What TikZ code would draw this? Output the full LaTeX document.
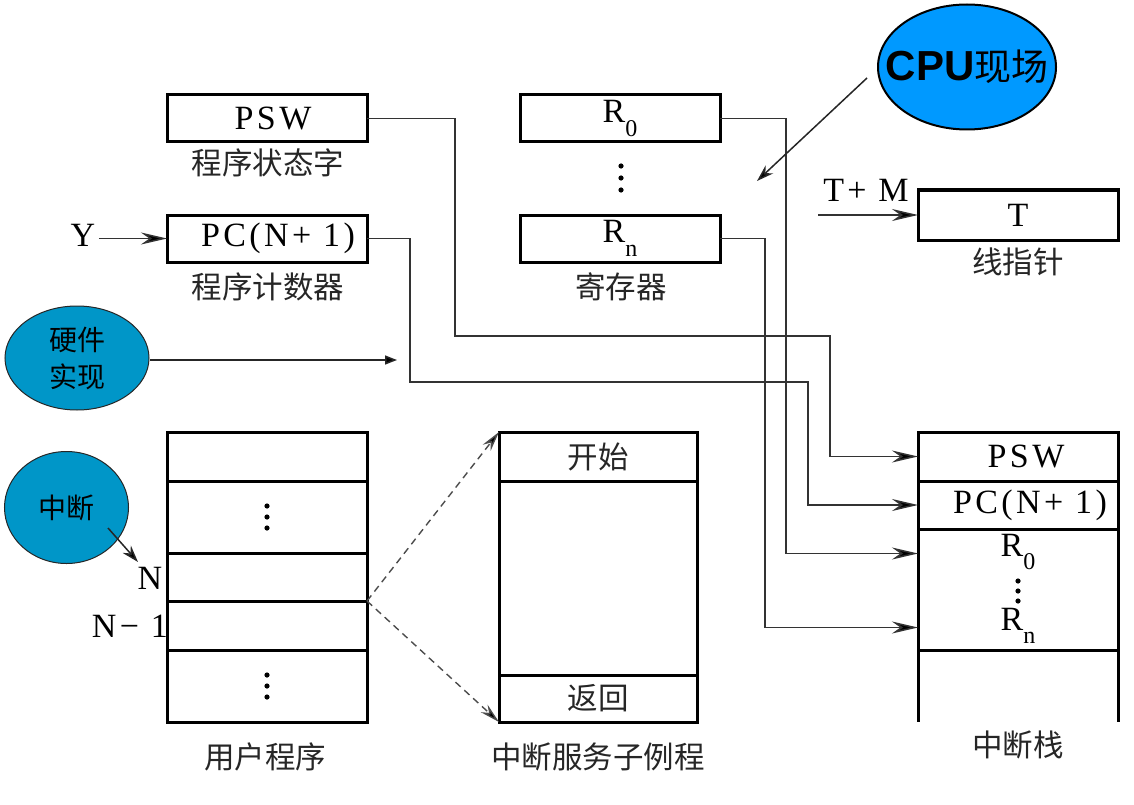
\documentclass[tikz,border=0pt]{standalone}
\usepackage{fontspec}
\setmainfont{Liberation Serif}
\newfontfamily\cjk{Noto Sans CJK SC}
\newfontfamily\lat[LetterSpace=10]{Liberation Serif}
\newfontfamily\cpuf{Liberation Sans}
\usetikzlibrary{arrows.meta,shapes.geometric}
\newcommand{\Rsub}[1]{R\raisebox{-0.4em}{\fontsize{24}{24}\selectfont #1}}
\definecolor{hwblue}{RGB}{0,150,200}
\definecolor{cpublue}{RGB}{0,153,255}
\begin{document}
\begin{tikzpicture}[x=1pt,y=-1pt,
  latf/.style={font=\lat\fontsize{34}{34}\selectfont},
  box/.style={draw, line width=3pt, minimum width=200pt, minimum height=47pt, inner sep=0pt, outer sep=0pt, latf},
  cell/.style={draw, line width=3pt, minimum width=200pt, inner sep=0pt, outer sep=0pt, latf},
  zhlbl/.style={font=\cjk\fontsize{30.5}{30.5}\selectfont, text=black!85},
  latl/.style={latf},
  conn/.style={line width=1.5pt, draw=black!80, -{Stealth[length=26pt,width=12pt,fill=black]}},
  smallarr/.style={line width=1.5pt, draw=black!85, -{Triangle[length=12pt,width=9pt,fill=black]}},
  midarr/.style={line width=1.5pt, draw=black!85, -{Stealth[length=17pt,width=11pt,fill=black]}},
  dasharr/.style={line width=1.4pt, draw=black!70, dash pattern=on 7pt off 5pt, -{Stealth[length=20pt,width=10pt,fill=black]}},
  blob/.style={ellipse, draw=black!85, line width=1pt, inner sep=0pt, align=center}
]
\useasboundingbox (0,0) rectangle (1134,805);

% registers
\node[box] (psw) at (267,118.5) {\hspace{12pt}PSW};
\node[zhlbl] (pswlab) at (268,163) {程序状态字};
\node[box] (pc) at (267,238.5) {\hspace{22pt}PC(N+ 1)};
\node[zhlbl] (pclab) at (268,287) {程序计数器};
\node[box] (r0) at (620,118.5) {\Rsub0};
\node[box] (rn) at (620,238.5) {\Rsub n};
\node[zhlbl] (reglab) at (621,287) {寄存器};
\foreach \yy in {166,178,190} \fill (621,\yy) circle (2.6pt);
\node[box, minimum height=50pt] (t) at (1018,215) {T};
\node[zhlbl] (tlab) at (1018,262) {线指针};
\node[latl] (tm) at (866,190) {T+ M};
\node[latl] (y) at (83,235) {Y};

% interrupt stack
\node[cell, minimum height=49pt] (stpsw) at (1018,456.5) {\hspace{16pt}PSW};
\node[cell, minimum height=48pt] (stpc) at (1018,505) {\hspace{24pt}PC(N+ 1)};
\node[cell, minimum height=121pt] (streg) at (1018,589.5) {};
\node[latl] (str0) at (1018,552) {\Rsub0};
\foreach \yy in {581,591,601} \fill (1018,\yy) circle (2.6pt);
\node[latl] (strn) at (1018,626) {\Rsub n};
\coordinate (stbl) at (918,722);
\coordinate (stbr) at (1118,722);
\draw[line width=3pt] (streg.south west) -- (stbl);
\draw[line width=3pt] (streg.south east) -- (stbr);
\node[zhlbl] (stlab) at (1018,745) {中断栈};

% user program
\node[cell, minimum height=49pt] (u1) at (267,456.5) {};
\node[cell, minimum height=72pt] (u2) at (267,517) {};
\node[cell, minimum height=48pt] (u3) at (267,577) {};
\node[cell, minimum height=49pt] (u4) at (267,625.5) {};
\node[cell, minimum height=72pt] (u5) at (267,686) {};
\foreach \yy in {506,517,528} \fill (267,\yy) circle (2.6pt);
\foreach \yy in {675,686,697} \fill (267,\yy) circle (2.6pt);
\node[zhlbl] (ulab) at (265,757) {用户程序};
\node[latl] (nlab) at (150,578) {N};
\node[latl] (n1lab) at (130,626) {N− 1};

% service routine
\node[cell, minimum width=198pt, minimum height=49pt, zhlbl] (s1) at (598,456.5) {开始};
\node[cell, minimum width=198pt, minimum height=194pt] (s2) at (598,578) {};
\node[cell, minimum width=198pt, minimum height=47pt, zhlbl] (s3) at (598,698.5) {返回};
\node[zhlbl] (slab) at (598,757) {中断服务子例程};

% blobs
\node[blob, fill=hwblue, minimum width=144pt, minimum height=104pt, font=\cjk\fontsize{28}{37}\selectfont] (hw) at (77,358) {硬件\\实现};
\node[blob, fill=hwblue, minimum width=124pt, minimum height=112pt, font=\cjk\fontsize{28}{28}\selectfont] (irq) at (66.5,507.5) {中断};
\node[blob, fill=cpublue, line width=2pt, draw=black, minimum width=178pt, minimum height=125pt] (cpu) at (967,67) {\makebox[0pt]{{\cpuf\bfseries\fontsize{42}{42}\selectfont CPU}{\cjk\fontsize{37}{37}\selectfont 现场}}};

% connectors
\draw[conn] (psw.east) -| (455,336) -| ([xshift=-88pt]stpsw.west) -- (stpsw.west);
\draw[conn] (pc.east) -| (410,382) -| ([xshift=-110pt]stpc.west) -- (stpc.west);
\draw[conn] (r0.east) -| ([xshift=-132pt,yshift=36pt]streg.west) -- ([yshift=36pt]streg.west);
\draw[conn] (rn.east) -| ([xshift=-153pt,yshift=-38pt]streg.west) -- ([yshift=-38pt]streg.west);
\draw[conn] (y.east |- pc.west) -- (pc.west);
\coordinate (tms) at (818,215);
\draw[conn] (tms) -- (t.west);
\coordinate (hwend) at (397,360);
\draw[smallarr] (hw.east |- hwend) -- (hwend);
\coordinate (cpuend) at (757,181);
\draw[midarr] ([shift={(-10pt,-11pt)}]cpu.west) -- (cpuend);
\coordinate (nend) at (138,562);
\draw[midarr] ([shift={(41.5pt,-20.5pt)}]irq.center) -- (nend);
\draw[dasharr] (u4.north east) -- (s1.north west);
\draw[dasharr] (u4.north east) -- (s3.south west);
\end{tikzpicture}
\end{document}
